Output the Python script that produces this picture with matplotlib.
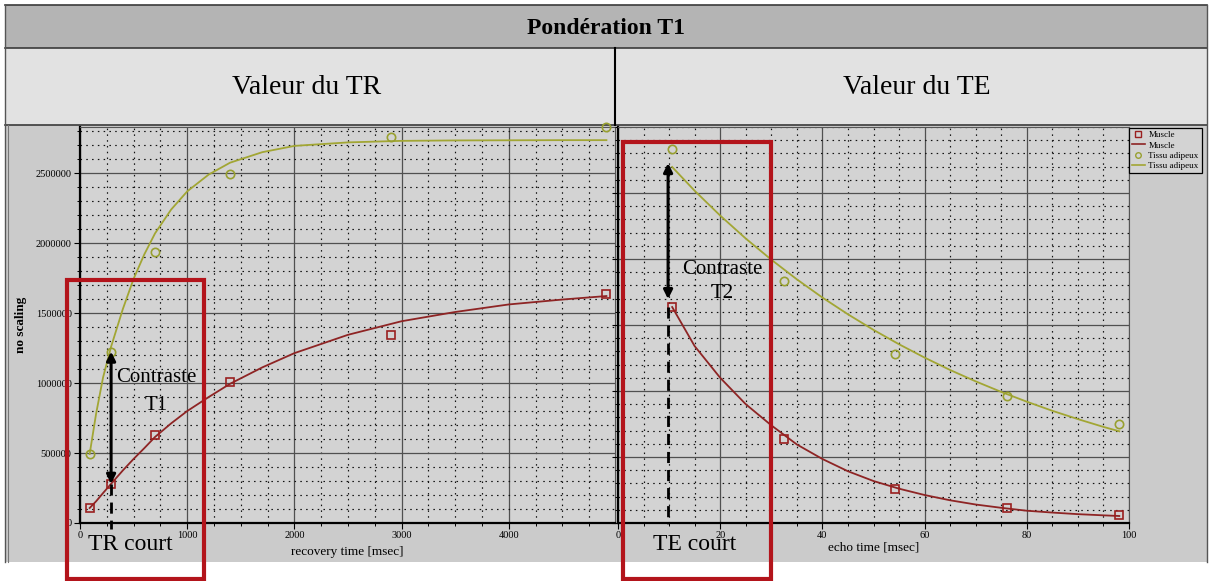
import matplotlib
matplotlib.use("Agg")
import matplotlib.pyplot as plt
from matplotlib.patches import Rectangle
from matplotlib.lines import Line2D
from matplotlib.ticker import FuncFormatter, MultipleLocator

plt.rcParams['font.family'] = ['Liberation Serif', 'DejaVu Serif']

# ---------------- data ----------------
TR_pts = [90, 290, 700, 1400, 2900, 4910]
muscle_TR_pts = [107000, 280000, 629000, 1008000, 1343000, 1636000]
tissue_TR_pts = [493000, 1225000, 1936000, 2493000, 2757000, 2830000]

TR_curve = [90, 150, 215, 290, 400, 500, 600, 700, 850, 1000, 1200, 1400,
            1700, 2000, 2500, 3000, 3500, 4000, 4500, 4910]
muscle_TR_curve = [107000, 155000, 214000, 280000, 376000, 458000, 535000, 615000,
                   712000, 800000, 900000, 995000, 1112000, 1214000, 1345000,
                   1442000, 1508000, 1562000, 1597000, 1622000]
tissue_TR_curve = [493000, 780000, 1040000, 1260000, 1530000, 1745000, 1920000,
                   2070000, 2240000, 2370000, 2490000, 2575000, 2650000, 2695000,
                   2720000, 2731000, 2734000, 2735000, 2736000, 2736000]

TE_pts = [10.6, 32.4, 54.3, 76.2, 98.1]
muscle_TE_pts = [1636000, 636000, 258000, 114000, 61000]
tissue_TE_pts = [2833000, 1833000, 1280000, 962000, 750000]

TE_curve = [10.6, 15, 20, 25, 30, 35, 40, 45, 50, 55, 60, 65, 70, 75, 80, 85, 90, 95, 98.1]
muscle_TE_curve = [1636000, 1340000, 1100000, 900000, 740000, 595000, 485000, 392000,
                   318000, 260000, 212000, 172000, 140000, 115000, 93000, 79000,
                   67000, 58000, 53000]
tissue_TE_curve = [2697000, 2517000, 2329000, 2155000, 1995000, 1846000, 1708000,
                   1581000, 1463000, 1354000, 1253000, 1159000, 1073000, 993000,
                   919000, 850000, 787000, 728000, 695000]

TR_xticks = [0, 1000, 2000, 3000, 4000]
TE_xticks = [0, 20, 40, 60, 80, 100]
y_ticks = [0, 500000, 1000000, 1500000, 2000000, 2500000]

legend_labels = ["Muscle", "Muscle", "Tissu adipeux", "Tissu adipeux"]

# ---------------- style ----------------
W, H = 1212, 581
MUS = '#8e2424'
MUS_M = '#9a1f1f'
TIS = '#a2a634'
TIS_M = '#98a030'
RED = '#b3141b'
BG_CHART = '#cbcbcb'
BG_AX = '#d3d3d3'


def fx(x):
    return x / W


def fy(y):
    return 1 - y / H


fig = plt.figure(figsize=(W / 100, H / 100), dpi=100)
fig.patch.set_facecolor('white')


def frect(x0, y0, x1, y1, **kw):
    r = Rectangle((fx(x0), fy(y1)), (x1 - x0) / W, (y1 - y0) / H,
                  transform=fig.transFigure, **kw)
    fig.add_artist(r)
    return r


def fline(xs, ys, **kw):
    l = Line2D([fx(v) for v in xs], [fy(v) for v in ys], transform=fig.transFigure, **kw)
    fig.add_artist(l)
    return l


# background bands
frect(5, 5, 1207, 48, facecolor='#b4b4b4', edgecolor='none', zorder=-5)
frect(5, 48, 1207, 125, facecolor='#e2e2e2', edgecolor='none', zorder=-5)
frect(5, 125, 1207, 562, facecolor=BG_CHART, edgecolor='none', zorder=-5)
for yy in (5, 48, 125):
    fline([5, 1207], [yy, yy], color='#3a3a3a', lw=1.2, zorder=-4)
fline([5, 5], [5, 562], color='#555555', lw=1.0, zorder=-4)
fline([8, 8], [125, 562], color='#777777', lw=0.8, zorder=-4)
fline([1207, 1207], [5, 562], color='#555555', lw=1.0, zorder=-4)
fline([615, 615], [48, 125], color='black', lw=1.5, zorder=-4)

fig.text(fx(606), fy(29), "Pondération T1", ha='center', va='center',
         fontsize=17, fontweight='bold')
fig.text(fx(307), fy(87), "Valeur du TR", ha='center', va='center', fontsize=20)
fig.text(fx(917), fy(87), "Valeur du TE", ha='center', va='center', fontsize=20)

# ---------------- axes ----------------
axL = fig.add_axes([fx(80), fy(523), (615 - 80) / W, (523 - 127) / H])
axR = fig.add_axes([fx(618), fy(523), (1129 - 618) / W, (523 - 127) / H])

int_fmt = FuncFormatter(lambda v, p: f"{int(round(v))}")

for ax in (axL, axR):
    ax.set_facecolor(BG_AX)
    ax.set_yticks(y_ticks)
    ax.yaxis.set_minor_locator(MultipleLocator(100000))
    ax.grid(which='major', color='#505050', lw=0.9, ls='-')
    ax.grid(which='minor', color='#111111', lw=0.85, ls=(0, (1.3, 3.6)))
    ax.set_axisbelow(True)
    ax.tick_params(which='major', direction='out', length=4, width=0.8, labelsize=7.5, pad=2)
    ax.tick_params(which='minor', direction='out', length=2.5, width=0.7)
    for s in ('left', 'bottom'):
        ax.spines[s].set_color('black')
        ax.spines[s].set_linewidth(1.6)
    for s in ('top', 'right'):
        ax.spines[s].set_color('#555555')
        ax.spines[s].set_linewidth(0.8)

axL.set_xlim(0, 4990)
axL.set_ylim(0, 2830000)
axL.set_xticks(TR_xticks)
axL.xaxis.set_minor_locator(MultipleLocator(250))
axL.yaxis.set_major_formatter(int_fmt)
axL.xaxis.set_major_formatter(int_fmt)
axL.set_xlabel("recovery time [msec]", fontsize=9.5, labelpad=4)
axL.set_ylabel("no scaling", fontsize=9.5, fontweight='bold', labelpad=6)

axR.set_xlim(0, 100)
axR.set_ylim(0, 3000000)
axR.set_xticks(TE_xticks)
axR.xaxis.set_minor_locator(MultipleLocator(5))
axR.xaxis.set_major_formatter(int_fmt)
axR.tick_params(axis='y', labelleft=False)
axR.set_xlabel("echo time [msec]", fontsize=9.5, labelpad=1)

# curves and points
axL.plot(TR_curve, tissue_TR_curve, color=TIS, lw=1.3, zorder=3)
axL.plot(TR_curve, muscle_TR_curve, color=MUS, lw=1.3, zorder=3)
axL.plot(TR_pts, muscle_TR_pts, ls='none', marker='s', ms=6, mfc='none',
         mec=MUS_M, mew=1.2, zorder=4)
axL.plot(TR_pts, tissue_TR_pts, ls='none', marker='o', ms=6, mfc='none',
         mec=TIS_M, mew=1.2, zorder=4, clip_on=False)

axR.plot(TE_curve, tissue_TE_curve, color=TIS, lw=1.3, zorder=3)
axR.plot(TE_curve, muscle_TE_curve, color=MUS, lw=1.3, zorder=3)
axR.plot(TE_pts, muscle_TE_pts, ls='none', marker='s', ms=6, mfc='none',
         mec=MUS_M, mew=1.2, zorder=4)
axR.plot(TE_pts, tissue_TE_pts, ls='none', marker='o', ms=6, mfc='none',
         mec=TIS_M, mew=1.2, zorder=4)

# contrast arrows
arrow_kw = dict(arrowstyle='<|-|>', color='black', lw=2.2, mutation_scale=13,
                shrinkA=0, shrinkB=0)
axL.annotate('', xy=(TR_pts[1], muscle_TR_pts[1]), xytext=(TR_pts[1], tissue_TR_pts[1]),
             arrowprops=arrow_kw, zorder=6)
axL.plot([TR_pts[1], TR_pts[1]], [muscle_TR_pts[1], -40000], color='black', lw=2,
         ls=(0, (4, 2.5)), clip_on=False, zorder=6)

axR.annotate('', xy=(TE_pts[0] - 0.8, muscle_TE_curve[0] + 60000),
             xytext=(TE_pts[0] - 0.8, tissue_TE_curve[0] + 30000),
             arrowprops=arrow_kw, zorder=6)
axR.plot([TE_pts[0] - 0.8, TE_pts[0] - 0.8], [muscle_TE_pts[0], -5000], color='black',
         lw=2, ls=(0, (4, 2.5)), clip_on=False, zorder=6)

# legend
handles = [
    Line2D([], [], ls='none', marker='s', ms=4, mfc='none', mec=MUS_M, mew=1.0),
    Line2D([], [], color=MUS, lw=1.2),
    Line2D([], [], ls='none', marker='o', ms=4, mfc='none', mec=TIS_M, mew=1.0),
    Line2D([], [], color=TIS, lw=1.2),
]
leg = fig.legend(handles, legend_labels, loc='upper left',
                 bbox_to_anchor=(fx(1129), fy(128)), prop={'size': 6.5},
                 frameon=True, fancybox=False, edgecolor='black', facecolor=BG_AX,
                 framealpha=1, handlelength=1.4, handletextpad=0.4,
                 borderpad=0.35, labelspacing=0.2, borderaxespad=0)
leg.get_frame().set_linewidth(0.9)

# red highlight boxes
frect(67, 280, 204, 579, facecolor='none', edgecolor=RED, lw=3, zorder=20)
frect(623, 142, 771, 579, facecolor='none', edgecolor=RED, lw=3, zorder=20)

# annotation texts
fig.text(fx(156), fy(377), "Contraste", ha='center', va='center', fontsize=15, zorder=21)
fig.text(fx(156), fy(405), "T1", ha='center', va='center', fontsize=15, zorder=21)
fig.text(fx(722), fy(270), "Contraste", ha='center', va='center', fontsize=15, zorder=21)
fig.text(fx(722), fy(294), "T2", ha='center', va='center', fontsize=15, zorder=21)
fig.text(fx(130), fy(545), "TR court", ha='center', va='center', fontsize=17, zorder=21)
fig.text(fx(695), fy(545), "TE court", ha='center', va='center', fontsize=17, zorder=21)

fig.savefig("out.png", dpi=100)
